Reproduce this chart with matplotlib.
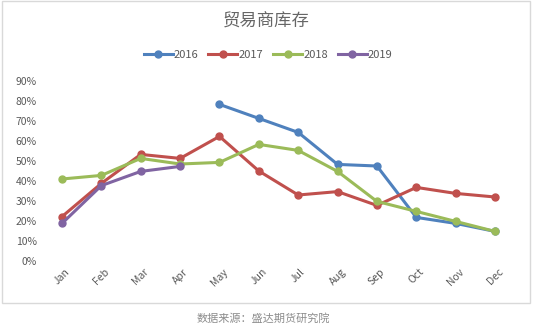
import matplotlib.pyplot as plt
import numpy as np
from matplotlib.patches import Rectangle

plt.rcParams['font.family'] = ['Noto Sans CJK SC', 'DejaVu Sans']

months = ['Jan', 'Feb', 'Mar', 'Apr', 'May', 'Jun',
          'Jul', 'Aug', 'Sep', 'Oct', 'Nov', 'Dec']
s2016 = [None, None, None, None, 78.3, 71.3, 64.3, 48.3, 47.5, 21.8, 18.8, 14.8]
s2017 = [22.2, 38.8, 53.3, 51.3, 62.3, 45.0, 33.0, 34.7, 27.8, 36.8, 33.8, 32.0]
s2018 = [41.0, 42.8, 51.3, 48.5, 49.3, 58.3, 55.3, 44.8, 29.8, 24.8, 19.8, 14.8]
s2019 = [18.8, 37.7, 44.8, 47.3, None, None, None, None, None, None, None, None]

series = [('2016', s2016, '#4F81BD'),
          ('2017', s2017, '#C0504D'),
          ('2018', s2018, '#9BBB59'),
          ('2019', s2019, '#8064A2')]

fig = plt.figure(figsize=(5.33, 3.27), dpi=100)
ax = fig.add_axes([0.0794, 0.2018, 0.8863, 0.5505])

x = np.arange(len(months))
for name, vals, col in series:
    y = np.array([np.nan if v is None else v for v in vals], dtype=float)
    ax.plot(x, y, color=col, lw=2.2, marker='o', ms=5, label=name)

ax.set_xlim(-0.5, len(months) - 0.5)
ax.set_ylim(0, 90)
ax.set_yticks(range(0, 91, 10))
ax.set_yticklabels([f'{v}%' for v in range(0, 91, 10)])
ax.set_xticks(x)
ax.set_xticklabels(months, rotation=45)
ax.tick_params(length=0, labelsize=7.5, colors='#595959', pad=4)
for sp in ax.spines.values():
    sp.set_visible(False)

fig.text(0.5, 0.933, '贸易商库存', ha='center', va='center',
         fontsize=12.5, color='#666666')
fig.legend(loc='center', bbox_to_anchor=(0.503, 0.832), ncol=4, frameon=False,
           fontsize=8, labelcolor='#595959', handlelength=2.6,
           columnspacing=0.9, handletextpad=0.1)

fig.patches.append(Rectangle((2 / 533, 1 - 303 / 327), 528 / 533, 302 / 327,
                             transform=fig.transFigure, fill=False,
                             edgecolor='#D9D9D9', lw=1))
fig.text(0.495, 1 - 318 / 327, '数据来源：盛达期货研究院', ha='center', va='center',
         fontsize=8, color='#8C8C8C', style='italic')

fig.savefig('out.png', dpi=100)
